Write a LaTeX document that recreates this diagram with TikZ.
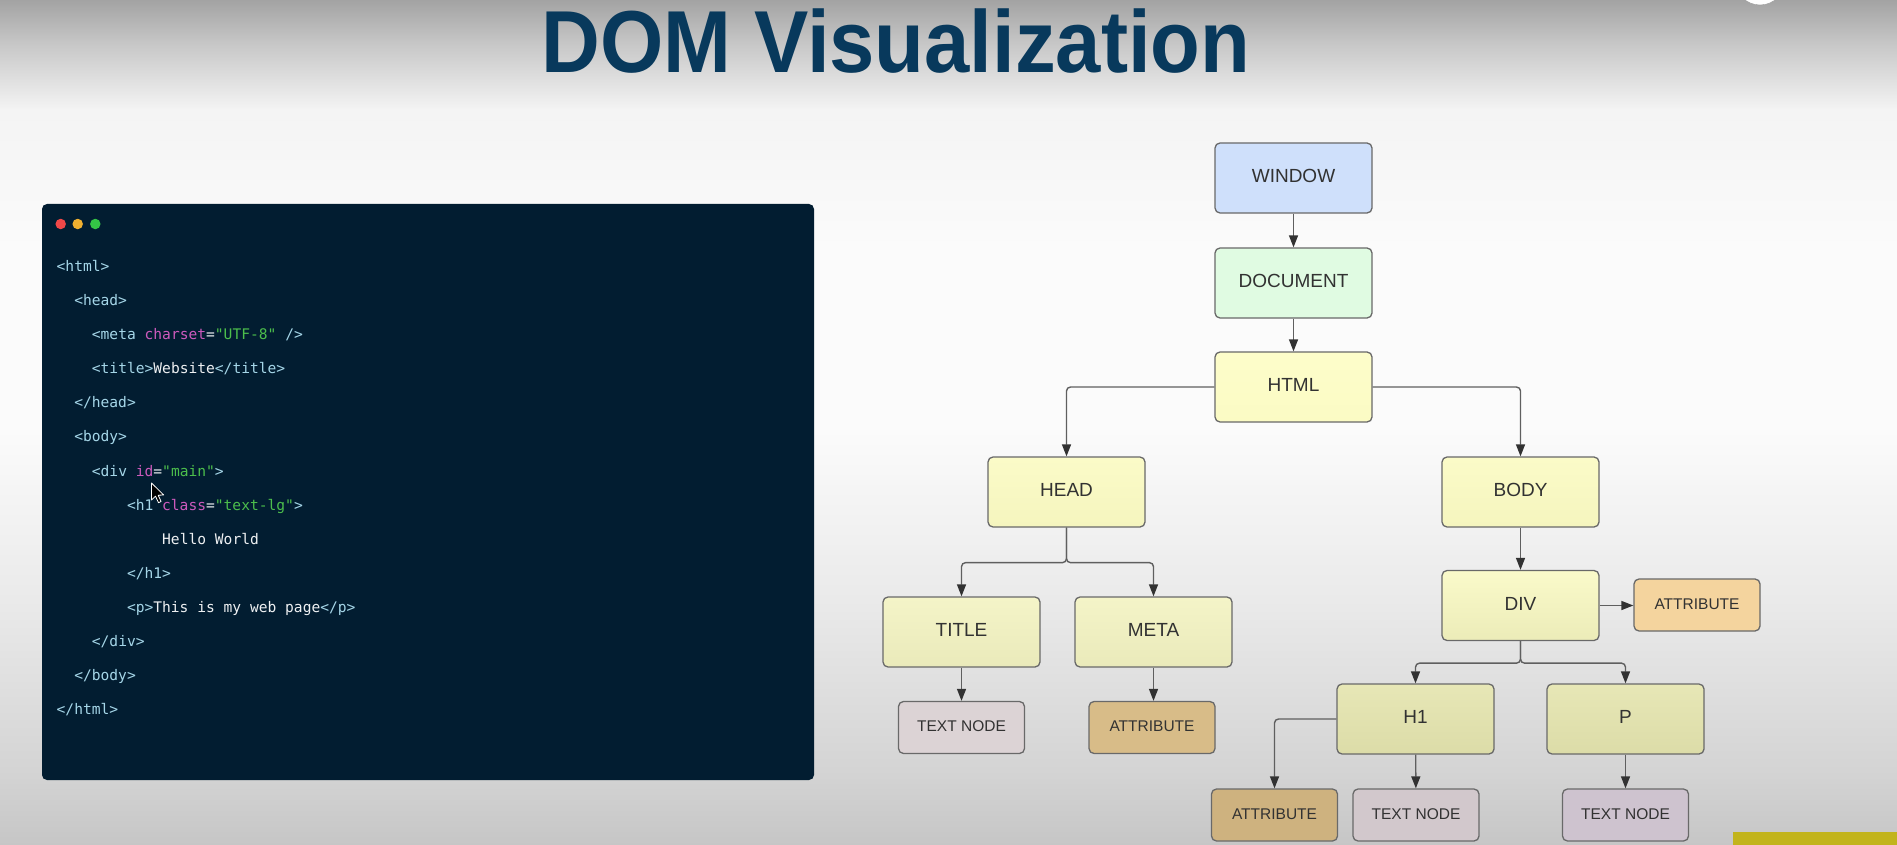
\documentclass[tikz,border=0pt]{standalone}
\usepackage{fontspec}
\setmainfont{Liberation Sans}
\newfontfamily\codefont{DejaVu Sans Mono}
\usetikzlibrary{arrows.meta}

% page and title
\definecolor{titleblue}{RGB}{8,57,92}
\definecolor{barolive}{RGB}{194,180,28}
\definecolor{bgA}{RGB}{163,163,163}
\definecolor{bgB}{RGB}{200,200,200}
\definecolor{bgC}{RGB}{244,244,244}
\definecolor{bgD}{RGB}{251,251,251}
\definecolor{bgE}{RGB}{234,234,234}
\definecolor{bgF}{RGB}{212,212,212}
\definecolor{bgG}{RGB}{198,198,198}
\definecolor{ringgray}{RGB}{150,150,150}
% code panel
\definecolor{codebg}{RGB}{2,29,49}
\definecolor{codetag}{RGB}{165,214,232}
\definecolor{codetext}{RGB}{238,240,242}
\definecolor{codeattr}{RGB}{204,90,188}
\definecolor{codestr}{RGB}{76,190,76}
\definecolor{dotred}{RGB}{240,72,72}
\definecolor{dotyellow}{RGB}{240,176,48}
\definecolor{dotgreen}{RGB}{52,196,70}
% tree
\definecolor{boxline}{RGB}{105,105,105}
\definecolor{connline}{RGB}{95,95,95}
\definecolor{tipdark}{RGB}{50,50,50}
\definecolor{nodetext}{RGB}{50,50,50}
\definecolor{winfill}{RGB}{207,224,251}
\definecolor{docfill}{RGB}{224,251,226}
\definecolor{htmlT}{RGB}{253,253,202}
\definecolor{htmlB}{RGB}{251,251,196}
\definecolor{lvlT}{RGB}{251,251,200}
\definecolor{lvlB}{RGB}{245,245,190}
\definecolor{headkidT}{RGB}{244,244,200}
\definecolor{headkidB}{RGB}{234,234,186}
\definecolor{divT}{RGB}{250,250,202}
\definecolor{divB}{RGB}{236,236,184}
\definecolor{divkidT}{RGB}{231,231,182}
\definecolor{divkidB}{RGB}{220,220,168}
\definecolor{textfillA}{RGB}{220,211,213}
\definecolor{textfillB}{RGB}{210,200,204}
\definecolor{textfillC}{RGB}{206,195,207}
\definecolor{attrfillA}{RGB}{216,188,136}
\definecolor{attrfillB}{RGB}{206,178,127}
\definecolor{attrfillC}{RGB}{244,212,158}

\newcommand\ctag[1]{\textcolor{codetag}{#1}}
\newcommand\cattr[1]{\textcolor{codeattr}{#1}}
\newcommand\cstr[1]{\textcolor{codestr}{#1}}

\begin{document}
\begin{tikzpicture}[x=1pt,y=-1pt,
  box/.style={draw=boxline, line width=1.3pt, rounded corners=5pt,
    minimum width=157pt, minimum height=70pt, inner sep=0pt,
    text depth=4pt, text=nodetext, font=\fontsize{19}{22}\selectfont},
  leaf/.style={box, minimum width=126pt, minimum height=52pt,
    text depth=2.5pt, font=\fontsize{15.5}{18}\selectfont},
  conn/.style={draw=connline, line width=1.4pt, rounded corners=4pt,
    -{Triangle[length=12pt,width=9pt,color=tipdark]}},
  codeline/.style={anchor=base west, inner sep=0pt, text=codetext,
    font=\codefont\fontsize{14.6}{17}\selectfont},
  dot/.style={circle, inner sep=0pt, minimum size=10.5pt}]

\useasboundingbox (0,0) rectangle (1897,845);

% background: grey at the top edge, white in the middle, greying towards the bottom
\fill[top color=bgA, bottom color=bgB] (0,0) rectangle (1897,45);
\fill[top color=bgB, bottom color=bgC] (0,45) rectangle (1897,110);
\fill[top color=bgC, bottom color=bgD] (0,110) rectangle (1897,250);
\fill[bgD] (0,250) rectangle (1897,430);
\fill[top color=bgD, bottom color=bgE] (0,430) rectangle (1897,600);
\fill[top color=bgE, bottom color=bgF] (0,600) rectangle (1897,770);
\fill[top color=bgF, bottom color=bgG] (0,770) rectangle (1897,845);

% player overlay bits
\filldraw[fill=white, draw=ringgray] (1760,-20) circle (25);
\fill[barolive] (1733,832) rectangle (1897,845);

% title
\node[anchor=base, inner sep=0pt, text=titleblue,
  font=\fontsize{88}{90}\selectfont\bfseries] (heading) at (896,73)
  {\scalebox{0.925}[1]{DOM Visualization}};

% code panel
\fill[codebg, rounded corners=5pt] (42,204) rectangle (814,780);
\node[dot, fill=dotred] (d1) at (60.7,224) {};
\node[dot, fill=dotyellow] (d2) at (77.7,224) {};
\node[dot, fill=dotgreen] (d3) at (95.3,224) {};

\node[codeline] (c0)  at (56.5,271.7)  {\ctag{<html>}};
\node[codeline] (c1)  at (74.1,305.75) {\ctag{<head>}};
\node[codeline] (c2)  at (91.7,339.8)  {\ctag{<meta} \cattr{charset}=\cstr{"UTF-8"} \ctag{/>}};
\node[codeline] (c3)  at (91.7,373.85) {\ctag{<title>}Website\ctag{</title>}};
\node[codeline] (c4)  at (74.1,407.9)  {\ctag{</head>}};
\node[codeline] (c5)  at (74.1,441.95) {\ctag{<body>}};
\node[codeline] (c6)  at (91.7,476.0)  {\ctag{<div} \cattr{id}=\cstr{"main"}\ctag{>}};
\node[codeline] (c7)  at (126.8,510.05) {\ctag{<h1} \cattr{class}=\cstr{"text-lg"}\ctag{>}};
\node[codeline] (c8)  at (162.0,544.1) {Hello World};
\node[codeline] (c9)  at (126.8,578.15) {\ctag{</h1>}};
\node[codeline] (c10) at (126.8,612.2) {\ctag{<p>}This is my web page\ctag{</p>}};
\node[codeline] (c11) at (91.7,646.25) {\ctag{</div>}};
\node[codeline] (c12) at (74.1,680.3)  {\ctag{</body>}};
\node[codeline] (c13) at (56.5,714.35) {\ctag{</html>}};

% mouse pointer
\filldraw[fill=black, draw=white, line width=0.8pt, line join=round]
  (151.5,483) -- ++(0,17) -- ++(4,-3.8) -- ++(3,6.5) -- ++(2.6,-1.2)
  -- ++(-2.9,-6.3) -- ++(5.5,-0.2) -- cycle;

% DOM tree
\node[box, fill=winfill] (win) at (1293.5,178) {WINDOW};
\node[box, fill=docfill] (doc) at (1293.5,283) {DOCUMENT};
\node[box, top color=htmlT, bottom color=htmlB] (html) at (1293.5,387) {HTML};
\node[box, top color=lvlT, bottom color=lvlB] (head) at (1066.5,492) {HEAD};
\node[box, top color=lvlT, bottom color=lvlB] (body) at (1520.5,492) {BODY};
\node[box, top color=headkidT, bottom color=headkidB] (ttl) at (961.5,632) {TITLE};
\node[box, top color=headkidT, bottom color=headkidB] (meta) at (1153.5,632) {META};
\node[leaf, fill=textfillA] (tn1) at (961.5,727.5) {TEXT NODE};
\node[leaf, fill=attrfillA] (at1) at (1152,727.5) {ATTRIBUTE};
\node[box, top color=divT, bottom color=divB] (div) at (1520.5,605.5) {DIV};
\node[leaf, fill=attrfillC] (at3) at (1697,605) {ATTRIBUTE};
\node[box, top color=divkidT, bottom color=divkidB] (hone) at (1415.5,719) {H1};
\node[box, top color=divkidT, bottom color=divkidB] (para) at (1625.5,719) {P};
\node[leaf, fill=attrfillB] (at2) at (1274.5,815) {ATTRIBUTE};
\node[leaf, fill=textfillB] (tn2) at (1416,815) {TEXT NODE};
\node[leaf, fill=textfillC] (tn3) at (1625.5,815) {TEXT NODE};

% connectors
\draw[conn] (win) -- (doc);
\draw[conn] (doc) -- (html);
\draw[conn] (html.west) -| (head.north);
\draw[conn] (html.east) -| (body.north);
\draw[conn] (head.south) -- ++(0,35) -| (ttl.north);
\draw[conn] (head.south) -- ++(0,35) -| (meta.north);
\draw[conn] (ttl) -- (tn1);
\draw[conn] (meta.south) -- (meta.south |- at1.north);
\draw[conn] (body) -- (div);
\draw[conn] (div.east) -- (div.east -| at3.west);
\draw[conn] (div.south) -- ++(0,22) -| (hone.north);
\draw[conn] (div.south) -- ++(0,22) -| (para.north);
\draw[conn] (hone.west) -| (at2.north);
\draw[conn] (hone) -- (tn2);
\draw[conn] (para) -- (tn3);
\end{tikzpicture}
\end{document}
